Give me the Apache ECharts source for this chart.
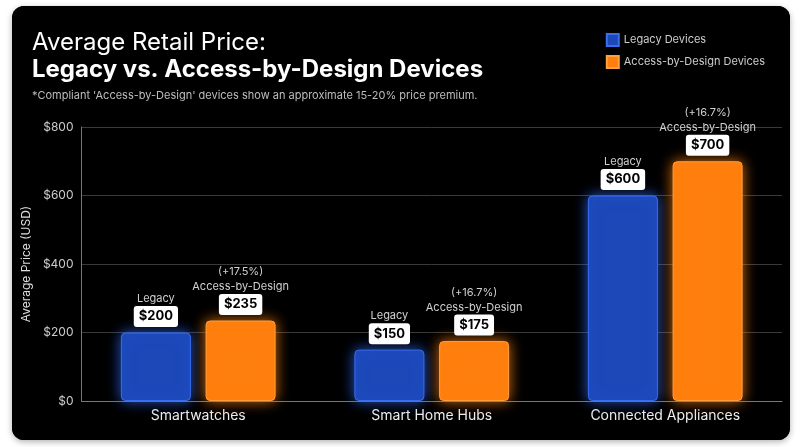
<!DOCTYPE html>
<html><head><meta charset="utf-8">
<script src="https://cdn.jsdelivr.net/npm/echarts@6/dist/echarts.min.js"></script>
<style>
html,body{margin:0;padding:0;background:#fff;width:800px;height:447px;overflow:hidden}
#card{position:absolute;left:12px;top:6px;width:778px;height:434px;background:#000;border-radius:12px;overflow:hidden;box-shadow:0 2px 6px rgba(0,0,0,.3)}
#c{width:778px;height:434px}
</style></head><body>
<div id="card"><div id="c"></div></div>
<script>
const categories = ['Smartwatches','Smart Home Hubs','Connected Appliances'];
const legacyValues = [200,150,600];
const accessValues = [235,175,700];
const premiums = ['+17.5%','+16.7%','+16.7%'];
const yTicks = [0,200,400,600,800];

const chart = echarts.init(document.getElementById('c'));
const F = 'Inter, "Noto Sans", sans-serif';
const rich = {
  t:{color:'#d0d0d0',fontSize:11,fontFamily:F,lineHeight:15},
  b:{backgroundColor:'#fff',color:'#000',fontWeight:'bold',fontSize:13,fontFamily:F,padding:[4,5],borderRadius:3,lineHeight:20}
};
chart.setOption({
  backgroundColor:'#000',
  textStyle:{fontFamily:F},
  title:{text:'Average Retail Price:',left:15,top:20,textStyle:{color:'#fff',fontSize:24,fontWeight:'normal',fontFamily:F}},
  graphic:[
    {type:'text',left:20,top:52,style:{text:'Legacy vs. Access-by-Design Devices',fill:'#fff',font:'bold 24px '+F}},
    {type:'text',left:20,top:84,style:{text:"*Compliant 'Access-by-Design' devices show an approximate 15-20% price premium.",fill:'#bdbdbd',font:'11px '+F}}
  ],
  legend:{orient:'vertical',right:20,top:22,itemWidth:12,itemHeight:12,itemGap:8,icon:'rect',textStyle:{color:'#ccc',fontSize:11},data:['Legacy Devices','Access-by-Design Devices']},
  grid:{left:66,right:8,top:121,bottom:39},
  xAxis:{type:'category',data:categories,axisLine:{lineStyle:{color:'#777'}},axisTick:{show:false},axisLabel:{color:'#eee',fontSize:14,margin:8}},
  yAxis:{type:'value',min:0,max:800,interval:200,name:'Average Price (USD)',nameLocation:'middle',nameGap:40,nameTextStyle:{color:'#ddd',fontSize:12},
    axisLine:{show:true,lineStyle:{color:'#777'}},splitLine:{lineStyle:{color:'#3a3a3a'}},
    axisLabel:{color:'#ccc',fontSize:12,formatter:v=>yTicks.includes(v)?'$'+v:''}},
  series:[
    {name:'Legacy Devices',type:'bar',data:legacyValues,barWidth:70,barGap:'21%',
     itemStyle:{color:'#1c48b8',borderColor:'#3a6ef0',borderWidth:1,borderRadius:4,shadowColor:'rgba(50,110,255,0.8)',shadowBlur:14},
     label:{show:true,position:'top',distance:6,formatter:p=>'{t|Legacy}\n{b|$'+p.value+'}',rich,align:'center'}},
    {name:'Access-by-Design Devices',type:'bar',data:accessValues,barWidth:70,
     itemStyle:{color:'#ff7f0e',borderColor:'#ffa040',borderWidth:1,borderRadius:4,shadowColor:'rgba(255,130,20,0.85)',shadowBlur:14},
     label:{show:true,position:'top',distance:6,formatter:p=>'{t|('+premiums[p.dataIndex]+')}\n{t|Access-by-Design}\n{b|$'+p.value+'}',rich,align:'center'}}
  ]
});
</script></body></html>
